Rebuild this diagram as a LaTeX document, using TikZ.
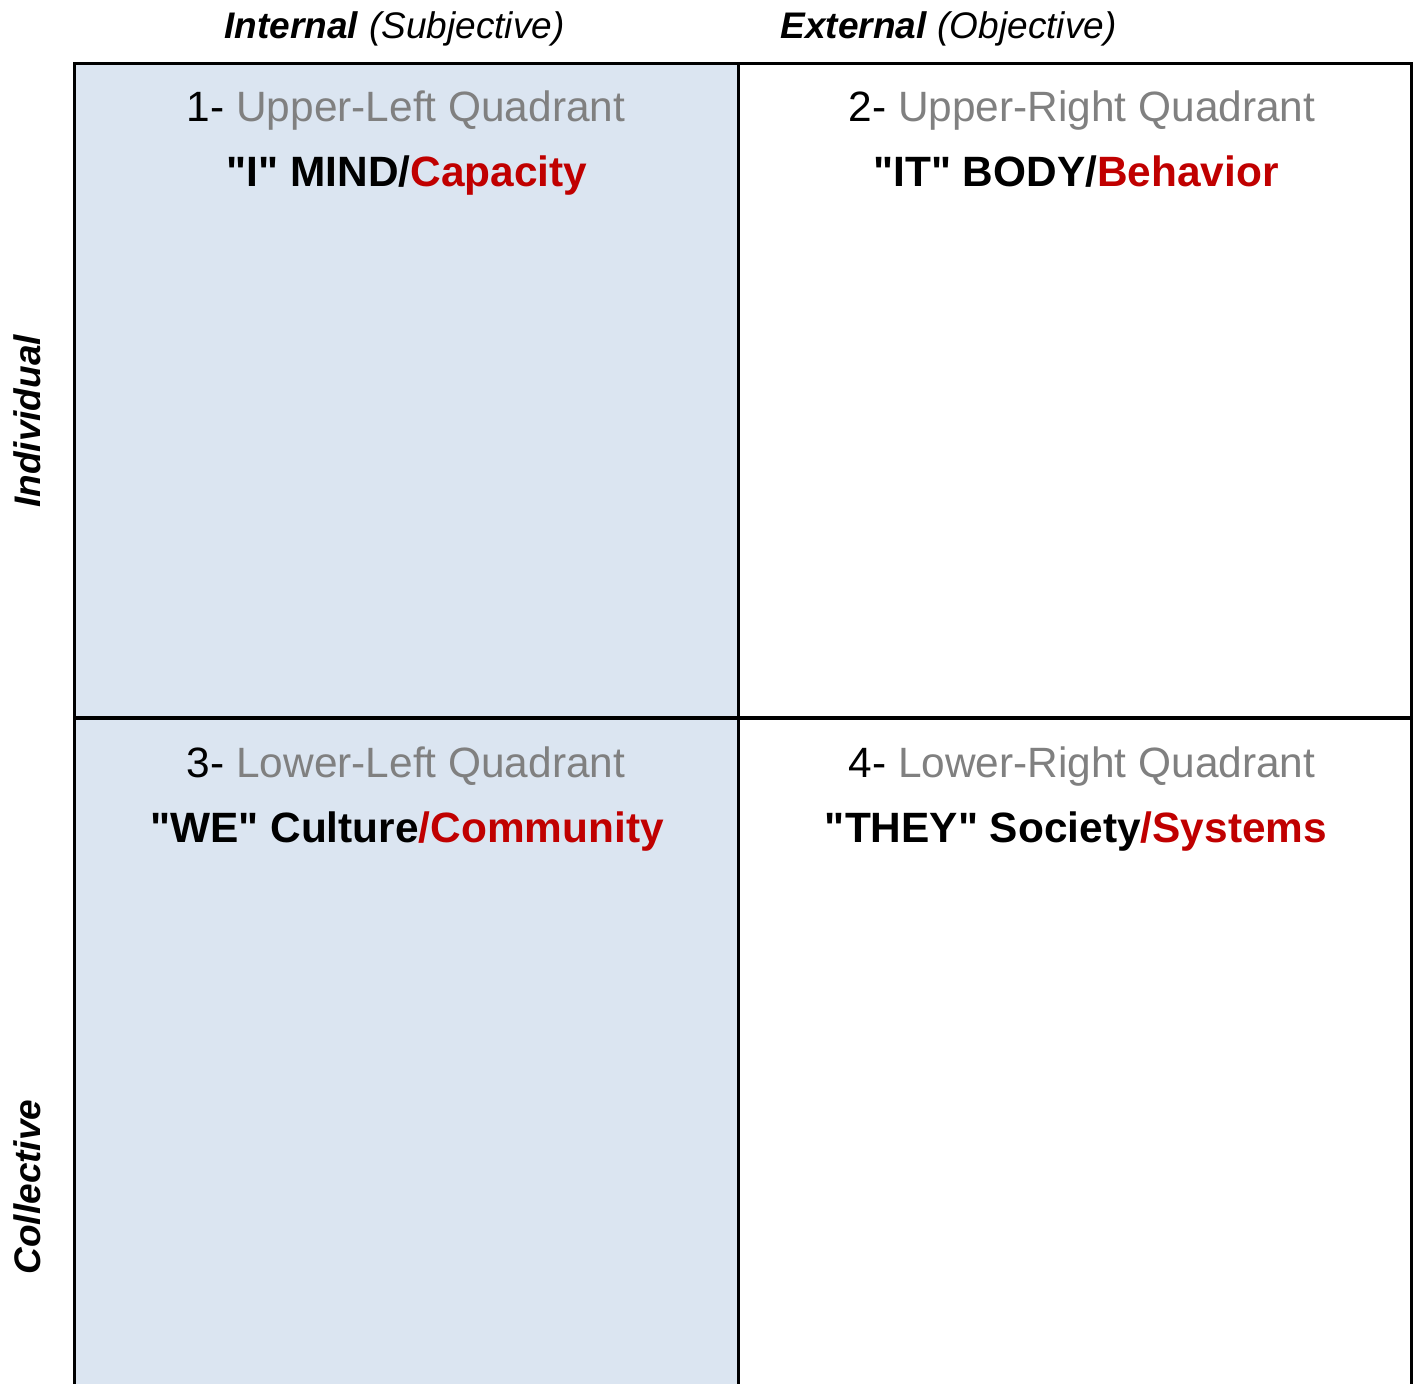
\documentclass[tikz,border=0pt]{standalone}
\usepackage{fontspec}
\setmainfont{Liberation Sans}
% same family without TeX ligature mapping, for straight quotes
\newfontfamily\plainsans{Liberation Sans}
\definecolor{quadfill}{HTML}{DBE5F1}
\definecolor{qgray}{HTML}{808080}
\definecolor{qred}{HTML}{C00000}
\newcommand{\sq}{{\plainsans\char34}}
\begin{document}
\begin{tikzpicture}[x=0.5pt,y=-0.5pt,
  grid/.style={line width=1.6pt,draw=black},
  axislabel/.style={anchor=base,inner sep=0pt,font=\fontsize{18.5}{22}\selectfont},
  qtitle/.style={anchor=base,inner sep=0pt,font=\fontsize{21.2}{26}\selectfont},
  qname/.style={anchor=base,inner sep=0pt,font=\fontsize{21.2}{26}\selectfont\bfseries}]
  \useasboundingbox (0,0) rectangle (1413,1384);
  % shaded internal column
  \fill[quadfill] (74.5,63.5) rectangle (738.5,1384);
  % quadrant grid, open at the bottom
  \draw[grid] (74.5,1384) -- (74.5,63.5) -- (1411.5,63.5) -- (1411.5,1384);
  \draw[grid] (738.5,63.5) -- (738.5,1384);
  \draw[grid] (74.5,718) -- (1411.5,718);
  % column headings
  \node[axislabel] (internal) at (394.5,39) {\textbf{\textit{Internal}} \textit{(Subjective)}};
  \node[axislabel] (external) at (948.5,39) {\textbf{\textit{External}} \textit{(Objective)}};
  % row headings
  \node[axislabel,rotate=90] (individual) at (40,421) {\textbf{\textit{Individual}}};
  \node[axislabel,rotate=90] (collective) at (40,1187) {\textbf{\textit{Collective}}};
  % quadrant titles
  \node[qtitle] (q1t) at (406,122) {1- \textcolor{qgray}{Upper-Left Quadrant}};
  \node[qname]  (q1n) at (407,187) {\sq I\sq{} MIND/\textcolor{qred}{Capacity}};
  \node[qtitle] (q2t) at (1082,122) {2- \textcolor{qgray}{Upper-Right Quadrant}};
  \node[qname]  (q2n) at (1076,187) {\sq IT\sq{} BODY/\textcolor{qred}{Behavior}};
  \node[qtitle] (q3t) at (406,777) {3- \textcolor{qgray}{Lower-Left Quadrant}};
  \node[qname]  (q3n) at (407,842) {\sq WE\sq{} Culture\textcolor{qred}{/Community}};
  \node[qtitle] (q4t) at (1082,777) {4- \textcolor{qgray}{Lower-Right Quadrant}};
  \node[qname]  (q4n) at (1076,842) {\sq THEY\sq{} Society\textcolor{qred}{/Systems}};
\end{tikzpicture}
\end{document}
